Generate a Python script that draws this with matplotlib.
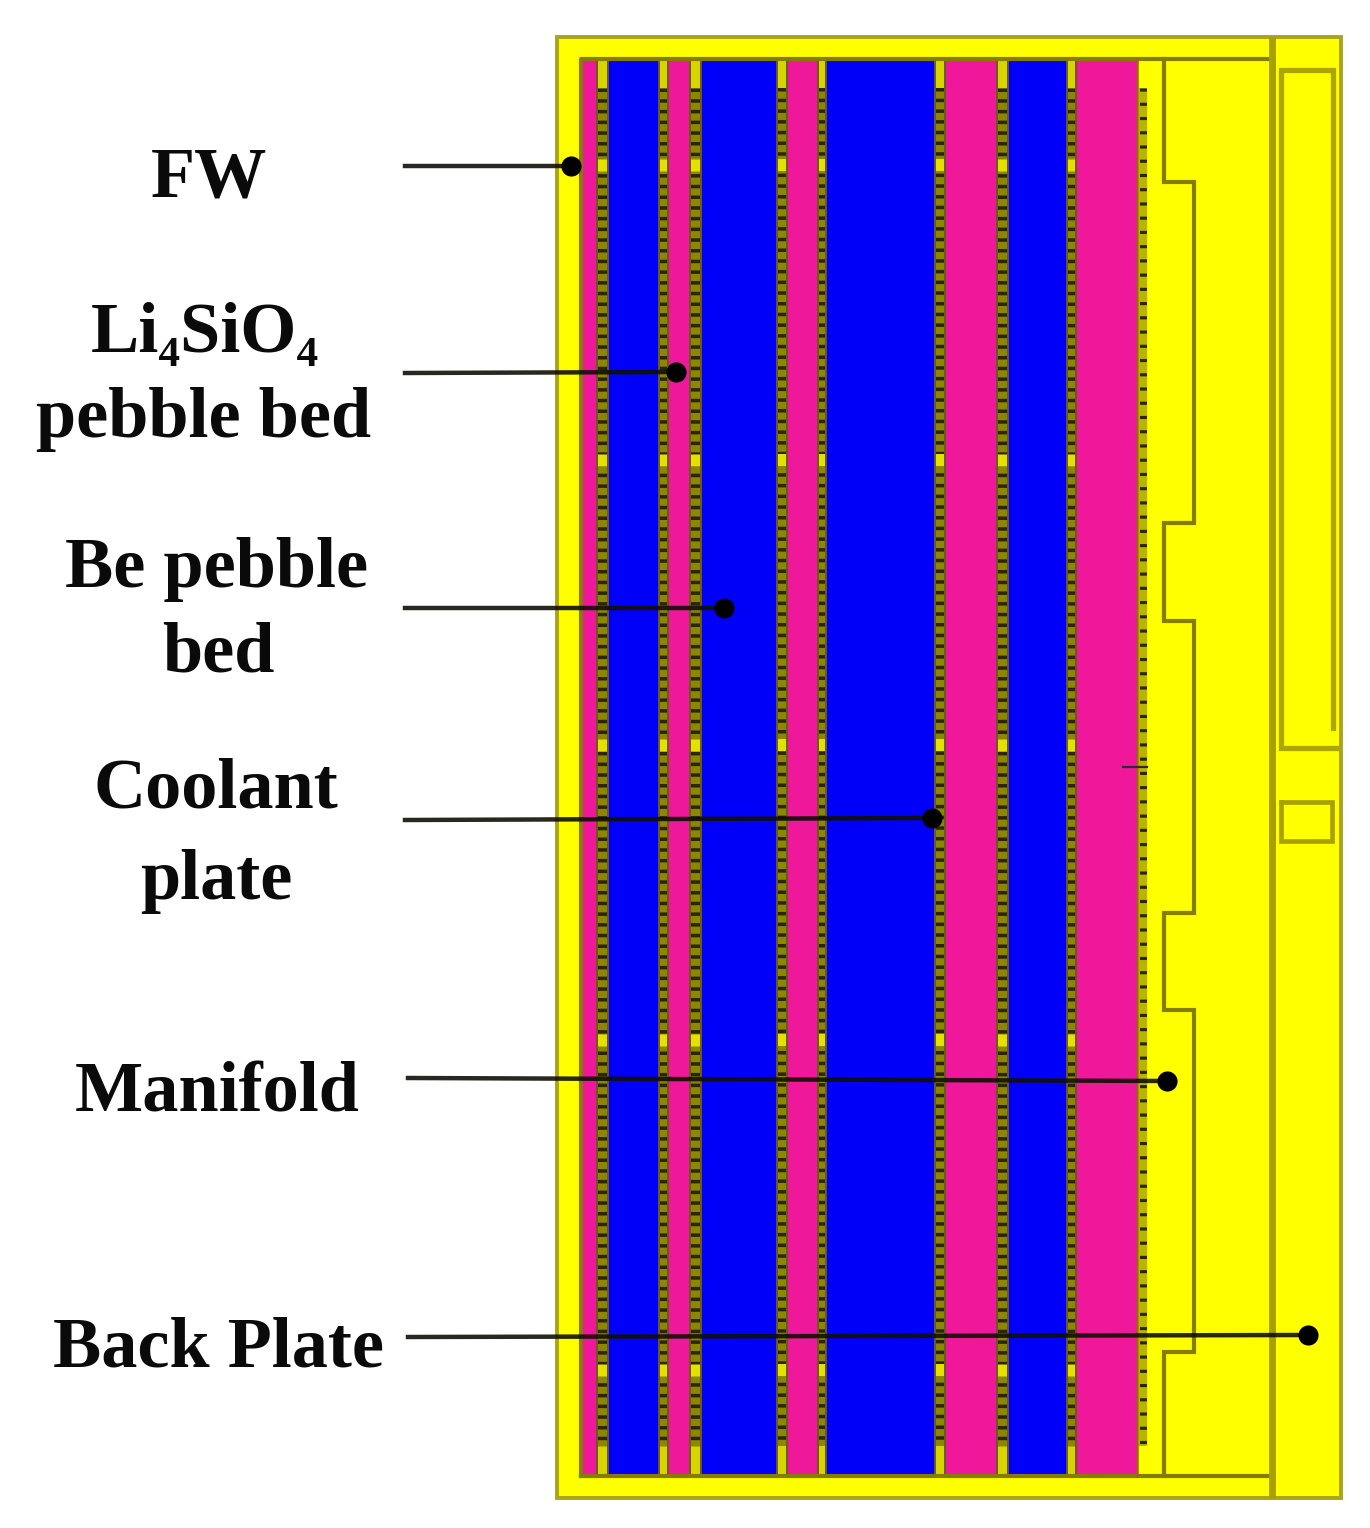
import matplotlib
matplotlib.use("Agg")
import matplotlib.pyplot as plt
from matplotlib.patches import Rectangle

YELLOW = "#ffff00"; PINK = "#f0189a"; BLUE = "#0000fa"; DARK = "#2a2600"

# Layers across the blanket, in reference pixels: (left, right, material)
layer_left = [581, 597, 608, 659, 668, 690, 701, 777, 787, 818, 826, 935, 945, 997, 1008, 1067, 1076]
layer_right = [597, 608, 659, 668, 690, 701, 777, 787, 818, 826, 935, 945, 997, 1008, 1067, 1076, 1137]
layer_type = ["pink", "cool", "blue", "cool", "pink", "cool", "blue", "cool", "pink", "cool",
              "blue", "cool", "pink", "cool", "blue", "cool", "pink"]
layer_top, layer_bottom = 59, 1476
channel_top, channel_bottom = 88, 1446
last_channel_x = 1143
bright_y = [165, 460, 745, 1040, 1370]

outer_x = [557, 1341]; outer_y = [37, 1498]
back_x = 1272
manifold_x = [1164, 1164, 1194, 1194, 1164, 1164, 1194, 1194, 1164, 1164, 1194, 1194, 1164, 1164]
manifold_y = [59, 182, 182, 523, 523, 621, 621, 913, 913, 1010, 1010, 1352, 1352, 1476]
slot_x = [1333, 1333, 1281, 1281, 1338]
slot_y = [728, 70, 70, 748, 748]
box_x = [1281, 1332, 1332, 1281, 1281]
box_y = [802, 802, 841, 841, 802]
tick_x = [1123, 1147]; tick_y = [767, 767]

lead_x0 = [405, 405, 405, 405, 408, 408]
lead_y0 = [166, 373, 608, 820, 1078, 1337]
lead_x1 = [571, 676, 724, 932, 1167, 1308]
lead_y1 = [166, 372, 608, 818, 1081, 1335]

label_text = ["FW", "Li₄SiO₄", "pebble bed", "Be pebble", "bed", "Coolant", "plate", "Manifold", "Back Plate"]
label_x = [209, 205, 204, 217, 218, 216, 216, 217, 219]
label_y = [179, 334, 420, 570, 654, 790, 881, 1094, 1349]

fig = plt.figure(figsize=(13.7, 15.28), dpi=100)
ax = fig.add_axes([0, 0, 1, 1])
ax.set_xlim(0, 1370); ax.set_ylim(1528, 0); ax.axis("off")

ax.add_patch(Rectangle((outer_x[0], outer_y[0]), outer_x[1]-outer_x[0], outer_y[1]-outer_y[0],
                       fc=YELLOW, ec="#a8a41c", lw=2.8, zorder=1))
fills = {"pink": PINK, "blue": BLUE, "cool": "#d8d400"}
for l, r, t in zip(layer_left, layer_right, layer_type):
    ax.add_patch(Rectangle((l, layer_top), r-l, layer_bottom-layer_top, fc=fills[t], ec="none", zorder=2))
for l, r, t in zip(layer_left, layer_right, layer_type):
    if t == "cool":
        c = (l+r)/2
        w = r-l
        ax.plot([c, c], [channel_top, channel_bottom], color="#8c8600", lw=w*0.72, zorder=3, solid_capstyle="butt")
        ax.plot([c, c], [channel_top, channel_bottom], color=DARK, lw=w*0.72, ls=(0, (3.5/w, 7.2/w)), zorder=4, dash_capstyle="butt")
        for y in bright_y:
            ax.plot([c, c], [y-6, y+6], color="#e4e000", lw=w*0.72, zorder=5, solid_capstyle="butt")
        ax.plot([l, l], [layer_top, layer_bottom], color="#6a5a20", lw=1.4, zorder=5)
        ax.plot([r, r], [layer_top, layer_bottom], color="#6a5a20", lw=1.4, zorder=5)
ax.plot([last_channel_x]*2, [channel_top, channel_bottom], color="#b8b400", lw=6, zorder=3, solid_capstyle="butt")
ax.plot([last_channel_x]*2, [channel_top, channel_bottom], color=DARK, lw=5, ls=(0, (0.45, 1.6)), zorder=4, dash_capstyle="butt")

ax.plot([layer_left[0], layer_left[0], back_x], [layer_bottom, layer_top, layer_top], color="#857d00", lw=3, zorder=6)
ax.plot([layer_left[0], back_x], [layer_bottom, layer_bottom], color="#857d00", lw=3, zorder=6)
ax.plot([layer_right[-1]]*2, [layer_top, layer_bottom], color="#a0601c", lw=1.8, zorder=6)
ax.plot([back_x, back_x], outer_y, color="#a8a000", lw=5, zorder=6, solid_capstyle="butt")
ax.plot(manifold_x, manifold_y, color="#857d00", lw=3, zorder=6, solid_joinstyle="miter")
ax.plot(slot_x, slot_y, color="#aca600", lw=3.8, zorder=6, solid_joinstyle="miter")
ax.plot(box_x, box_y, color="#a8a200", lw=3.4, zorder=6, solid_joinstyle="miter")
ax.plot(tick_x, tick_y, color="#302a30", lw=1.6, zorder=6)

for x0, y0, x1, y1 in zip(lead_x0, lead_y0, lead_x1, lead_y1):
    ax.plot([x0, x1], [y0, y1], color="#101005", lw=3.2, zorder=7, alpha=0.9)
    ax.plot([x1], [y1], "o", color="black", ms=14.5, zorder=8, mew=0)

for s, x, y in zip(label_text, label_x, label_y):
    ax.text(x, y, s, ha="center", va="center", fontsize=52, fontweight="bold",
            family=["Liberation Serif", "DejaVu Serif"], color="#0a0a0a", zorder=9)

fig.savefig("out.png", dpi=100, facecolor="white")
